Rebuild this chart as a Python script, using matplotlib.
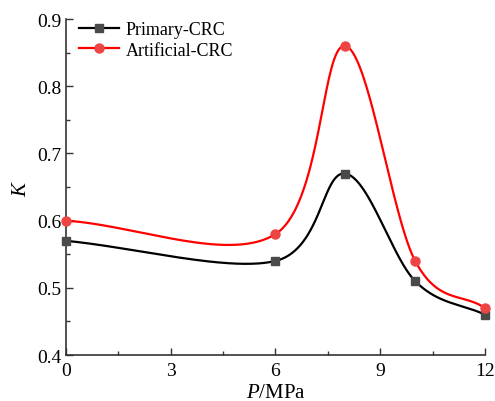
import numpy as np
import matplotlib
matplotlib.use('Agg')
import matplotlib.pyplot as plt
from matplotlib.ticker import MultipleLocator

plt.rcParams['font.family'] = 'Liberation Serif'
plt.rcParams['mathtext.fontset'] = 'custom'
plt.rcParams['mathtext.rm'] = 'Liberation Serif'
plt.rcParams['mathtext.it'] = 'Liberation Serif:italic'

# данные
pressure = [0, 6, 8, 10, 12]
k_primary = [0.57, 0.54, 0.67, 0.51, 0.46]
k_artificial = [0.60, 0.58, 0.86, 0.54, 0.47]

# масштаб осей в пикселях (для сглаживания в экранных координатах)
SX = 418 / 12
SY = 336 / 0.5


def catmull_rom(x, y, n=100):
    """Сглаженная кривая через точки (Catmull-Rom в экранных координатах)"""
    P = np.column_stack([np.asarray(x, float) * SX, np.asarray(y, float) * SY])
    P = np.vstack([2 * P[0] - P[1], P, 2 * P[-1] - P[-2]])
    t = np.linspace(0, 1, n)[:, None]
    out = []
    for i in range(1, len(P) - 2):
        p0, p1, p2, p3 = P[i - 1], P[i], P[i + 1], P[i + 2]
        seg = 0.5 * (2 * p1 + (p2 - p0) * t
                     + (2 * p0 - 5 * p1 + 4 * p2 - p3) * t**2
                     + (-p0 + 3 * p1 - 3 * p2 + p3) * t**3)
        out.append(seg)
    C = np.vstack(out)
    return C[:, 0] / SX, C[:, 1] / SY


fig = plt.figure(figsize=(4.95, 4.02), dpi=100)
ax = fig.add_axes([0.1333, 0.1144, 0.8465, 0.8356])

for yv, lc, mc, mk, ms, name in [
        (k_primary, 'black', '#4a4a4a', 's', 6, 'Primary-CRC'),
        (k_artificial, 'red', '#ee4444', 'o', 6.5, 'Artificial-CRC')]:
    xs, ys = catmull_rom(pressure, yv)
    ax.plot(xs, ys, color=lc, lw=1.6, zorder=2)
    ax.plot(pressure, yv, ls='none', marker=mk, ms=ms, color=mc, zorder=3, clip_on=False)
    ax.plot([], [], color=lc, lw=1.6, marker=mk, ms=ms, mfc=mc, mec=mc, label=name)

ax.set_xlim(0, 12)
ax.set_ylim(0.4, 0.9)
ax.xaxis.set_major_locator(MultipleLocator(3))
ax.xaxis.set_minor_locator(MultipleLocator(1.5))
ax.yaxis.set_major_locator(MultipleLocator(0.1))
ax.yaxis.set_minor_locator(MultipleLocator(0.05))
ax.set_yticks(ax.get_yticks())
ax.set_yticklabels([f'{v:.1f}' for v in ax.get_yticks()])
ax.set_ylim(0.4, 0.9)

for s in ['top', 'right']:
    ax.spines[s].set_visible(False)
for s in ['left', 'bottom']:
    ax.spines[s].set_linewidth(1.2)
    ax.spines[s].set_color('#333333')
ax.tick_params(which='both', direction='in', labelsize=14, color='#333333')
ax.tick_params(which='major', length=5, width=1)
ax.tick_params(which='minor', length=3, width=1)
ax.tick_params(axis='x', pad=5)

ax.set_xlabel('$\\it{P}$/MPa', fontsize=15, labelpad=3)
ax.set_ylabel('$\\it{K}$', fontsize=15, labelpad=4)

ax.legend(loc='upper left', frameon=False, fontsize=13, handlelength=2.2,
          borderaxespad=0.0, handletextpad=0.35, labelspacing=0.2,
          bbox_to_anchor=(0.015, 1.016))

fig.savefig('out.png', dpi=100)
